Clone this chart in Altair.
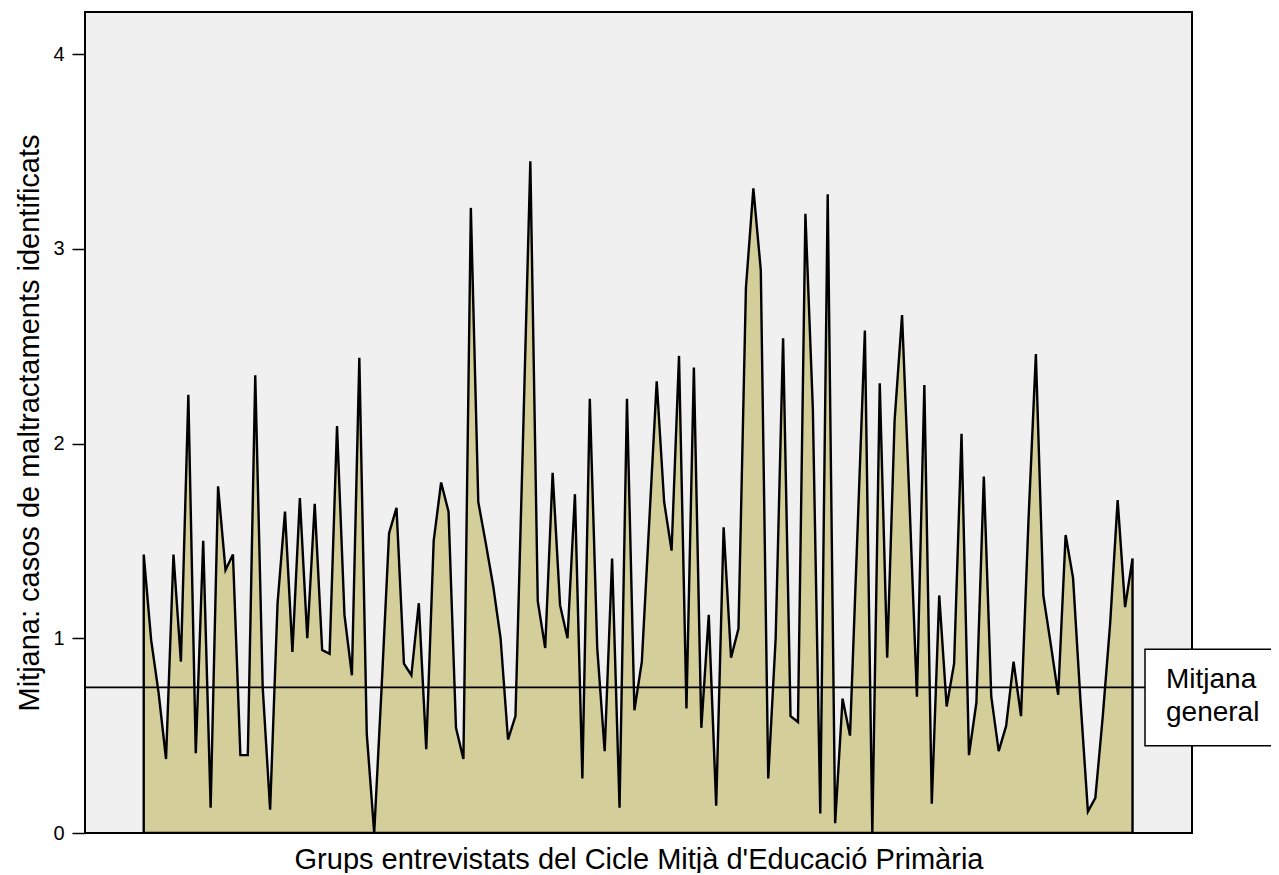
import altair as alt
import pandas as pd

# Mean number of identified abuse cases per interviewed group
values = [
    1.43, 0.99, 0.72, 0.38, 1.43, 0.88, 2.25, 0.41, 1.50, 0.13,
    1.78, 1.35, 1.43, 0.40, 0.40, 2.35, 0.75, 0.12, 1.18, 1.65,
    0.93, 1.72, 1.00, 1.69, 0.94, 0.92, 2.09, 1.12, 0.81, 2.44,
    0.51, 0.00, 0.75, 1.54, 1.67, 0.87, 0.81, 1.18, 0.43, 1.50,
    1.80, 1.65, 0.54, 0.38, 3.21, 1.70, 1.49, 1.27, 1.00, 0.48,
    0.60, 2.00, 3.45, 1.19, 0.95, 1.85, 1.17, 1.00, 1.74, 0.28,
    2.23, 0.95, 0.42, 1.41, 0.13, 2.23, 0.63, 0.88, 1.60, 2.32,
    1.70, 1.45, 2.45, 0.64, 2.39, 0.54, 1.12, 0.14, 1.57, 0.90,
    1.05, 2.80, 3.31, 2.89, 0.28, 1.00, 2.54, 0.60, 0.57, 3.18,
    2.18, 0.10, 3.28, 0.05, 0.69, 0.50, 1.54, 2.58, 0.00, 2.31,
    0.90, 2.12, 2.66, 1.70, 0.70, 2.30, 0.15, 1.22, 0.65, 0.87,
    2.05, 0.40, 0.67, 1.83, 0.70, 0.42, 0.55, 0.88, 0.60, 1.60,
    2.46, 1.22, 0.97, 0.71, 1.53, 1.31, 0.68, 0.11, 0.18, 0.60,
    1.08, 1.71, 1.16, 1.41,
]
groups = list(range(len(values)))
overall_mean = 0.748
y_ticks = [0, 1, 2, 3, 4]
box_label = "Mitjana\ngeneral"
x_title = "Grups entrevistats del Cicle Mitjà d'Educació Primària"
y_title = "Mitjana: casos de maltractaments identificats"

df = pd.DataFrame({"grup": groups, "mitjana": values})

FONT = "Liberation Sans"

x_scale = alt.Scale(domain=[-7.9, 141.0], nice=False, zero=False)
y_scale = alt.Scale(domain=[0, 4.216], nice=False)

area = alt.Chart(df).mark_area(
    fill="#D4CF9A", stroke="black", strokeWidth=2.4, strokeJoin="miter", clip=True
).encode(
    x=alt.X("grup:Q", scale=x_scale,
            axis=alt.Axis(title=x_title, labels=False, ticks=False, grid=False,
                          domain=False, titleFont=FONT, titleFontSize=29,
                          titleFontWeight="normal", titleColor="black",
                          titleY=35, titleBaseline="alphabetic")),
    y=alt.Y("mitjana:Q", scale=y_scale,
            axis=alt.Axis(title=y_title, values=y_ticks, format="d", grid=False,
                          domain=False, tickSize=13, tickWidth=1.5, tickColor="black",
                          labelFont=FONT, labelFontSize=20, labelColor="black",
                          labelPadding=8, titleFont=FONT, titleFontSize=29,
                          titleFontWeight="normal", titleColor="black",
                          titleX=-47, titleBaseline="alphabetic")),
)

mean_rule = alt.Chart(pd.DataFrame({"m": [overall_mean]})).mark_rule(
    color="black", strokeWidth=1.8
).encode(
    y=alt.Y("m:Q", scale=y_scale),
    x=alt.value(0),
    x2=alt.value(1060),
)

box = alt.Chart(pd.DataFrame({"top": [0.943], "bottom": [0.448]})).mark_rect(
    fill="white", stroke="black", strokeWidth=1.5
).encode(
    y=alt.Y("top:Q", scale=y_scale),
    y2="bottom:Q",
    x=alt.value(1060),
    x2=alt.value(1200),
)

box_text = alt.Chart(pd.DataFrame({"t": [box_label]})).mark_text(
    align="left", baseline="alphabetic", font=FONT, fontSize=28,
    color="black", lineBreak="\n", lineHeight=33
).encode(
    text="t:N",
    x=alt.value(1081),
    y=alt.value(676),
)

chart = alt.layer(area, mean_rule, box, box_text).properties(
    width=1107,
    height=821,
    background="white",
    autosize=alt.AutoSizeParams(type="none"),
    padding={"left": 77, "top": 4, "right": 79, "bottom": 40},
).configure_view(
    fill="#F0F0F0", stroke="black", strokeWidth=2
)

chart.save("out.html", embed_options={"renderer": "svg", "actions": False})
